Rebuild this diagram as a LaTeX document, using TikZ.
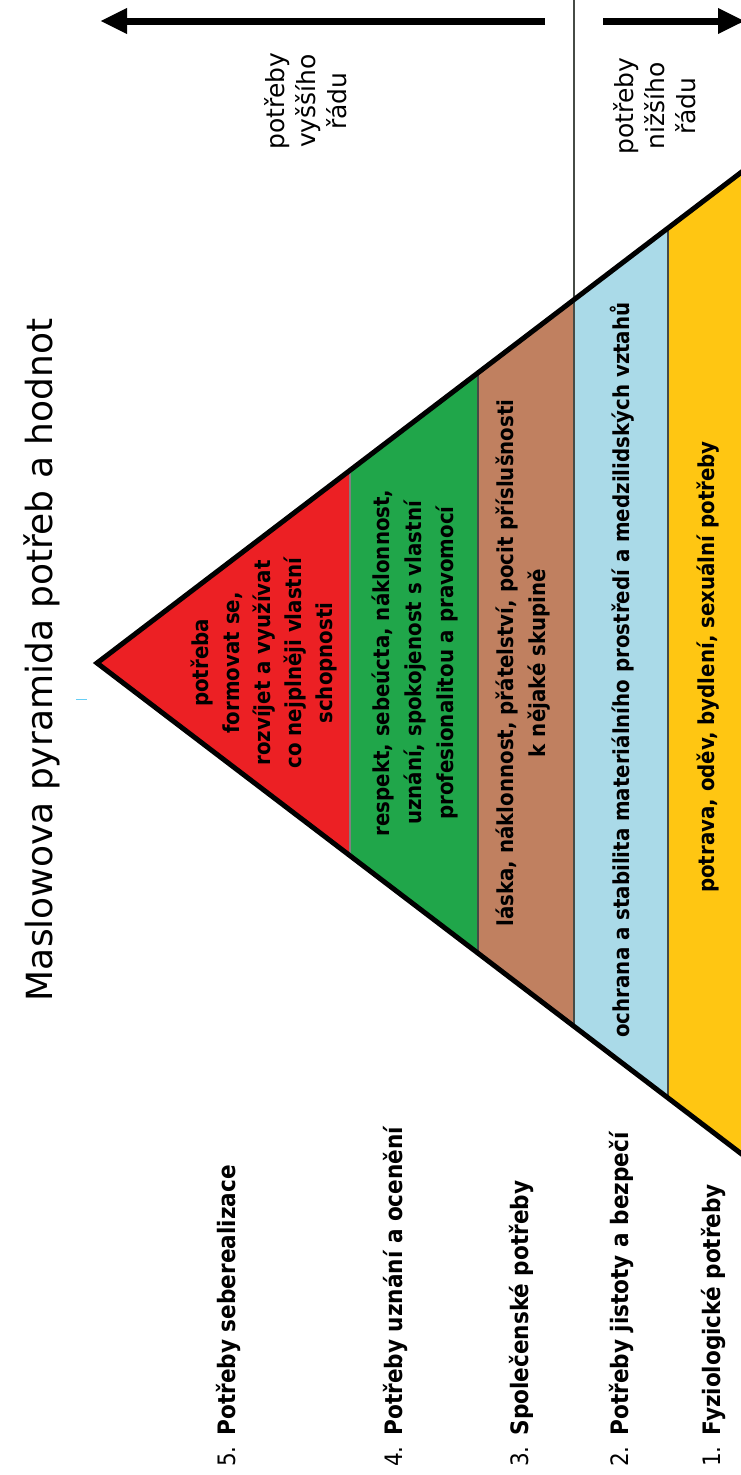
\documentclass[tikz,border=0pt]{standalone}
\usepackage{fontspec}
\setmainfont{DejaVu Sans}
\newfontfamily\condfont{DejaVu Sans Condensed}[BoldFont={DejaVu Sans Condensed Bold}]
\usetikzlibrary{arrows.meta}
\definecolor{cred}{RGB}{236,32,36}
\definecolor{cgreen}{RGB}{32,166,74}
\definecolor{cbrown}{RGB}{192,128,96}
\definecolor{cblue}{RGB}{170,218,232}
\definecolor{cyellow}{RGB}{255,198,18}
\definecolor{csep}{RGB}{70,75,70}
\tikzset{
  sepline/.style={draw=csep, line width=1.2pt},
  outline/.style={draw=black, line width=5pt, line join=miter},
  bigarrow/.style={line width=7pt, -{Triangle[length=27pt,width=24pt]}},
  titletext/.style={rotate=90, inner sep=0pt, font=\fontsize{36}{40}\selectfont},
  ordertext/.style={rotate=90, inner sep=0pt, align=center, font=\fontsize{25}{31}\selectfont},
  leveltext/.style={rotate=90, inner sep=0pt, align=center, font=\condfont\bfseries\fontsize{22}{32}\selectfont},
  labeltext/.style={rotate=90, inner sep=0pt, anchor=base west, font=\condfont\fontsize{24}{28}\selectfont}
}
\begin{document}
\begin{tikzpicture}[x=1pt,y=-1pt]
\useasboundingbox (0,0) rectangle (741,1475);
\coordinate (apex) at (97,663);
\coordinate (top) at (760,158);
\coordinate (bot) at (760,1168);
% layers
\begin{scope}
  \clip (apex) -- (top) -- (bot) -- cycle;
  \fill[cred] (0,0) rectangle (350,1475);
  \fill[cgreen] (350,0) rectangle (478,1475);
  \fill[cbrown] (478,0) rectangle (574,1475);
  \fill[cblue] (574,0) rectangle (668,1475);
  \fill[cyellow] (668,0) rectangle (760,1475);
  \draw[sepline, draw=gray] (350,0) -- (350,1475);
  \draw[sepline] (478,0) -- (478,1475);
  \draw[sepline] (574,0) -- (574,1475);
  \draw[sepline] (668,0) -- (668,1475);
\end{scope}
\coordinate (divtop) at (574,0);
\coordinate (divbot) at (574,300);
\draw[sepline] (divtop) -- (divbot);
\draw[outline] (top) -- (apex) -- (bot);
% small cyan mark
\draw[cyan!60, line width=1pt] (76,699) -- (87,699);
% arrows
\coordinate (la0) at (545,21);
\coordinate (la1) at (100,21);
\coordinate (ra0) at (603,21);
\coordinate (ra1) at (745,21);
\draw[bigarrow] (la0) -- (la1);
\draw[bigarrow] (ra0) -- (ra1);
% texts
\node[titletext] (title) at (42,660) {Maslowova pyramida potřeb a hodnot};
\node[ordertext] (higher) at (306,101) {potřeby\\vyššího\\řádu};
\node[ordertext] (lower) at (655,106) {potřeby\\nižšího\\řádu};
\node[leveltext, font=\condfont\bfseries\fontsize{22}{31}\selectfont] (t5) at (264,663) {potřeba\\formovat se,\\rozvíjet a využívat\\co nejplněji vlastní\\schopnosti};
\node[leveltext] (t4) at (415,663) {respekt, sebeúcta, náklonnost,\\uznání, spokojenost s vlastní\\profesionalitou a pravomocí};
\node[leveltext] (t3) at (523,663) {láska, náklonnost, přátelství, pocit příslušnosti\\k nějaké skupině};
\node[leveltext] (t2) at (622,670) {ochrana a stabilita materiálního prostředí a medzilidských vztahů};
\node[leveltext] (t1) at (708,667) {potrava, oděv, bydlení, sexuální potřeby};
\node[labeltext] (l5) at (235,1467) {5.\hspace{0.45em}\textbf{Potřeby seberealizace}};
\node[labeltext] (l4) at (402,1467) {4.\hspace{0.45em}\textbf{Potřeby uznání a ocenění}};
\node[labeltext] (l3) at (528,1467) {3.\hspace{0.45em}\textbf{Společenské potřeby}};
\node[labeltext] (l2) at (628,1467) {2.\hspace{0.45em}\textbf{Potřeby jistoty a bezpečí}};
\node[labeltext] (l1) at (720,1467) {1.\hspace{0.45em}\textbf{Fyziologické potřeby}};
\end{tikzpicture}
\end{document}
